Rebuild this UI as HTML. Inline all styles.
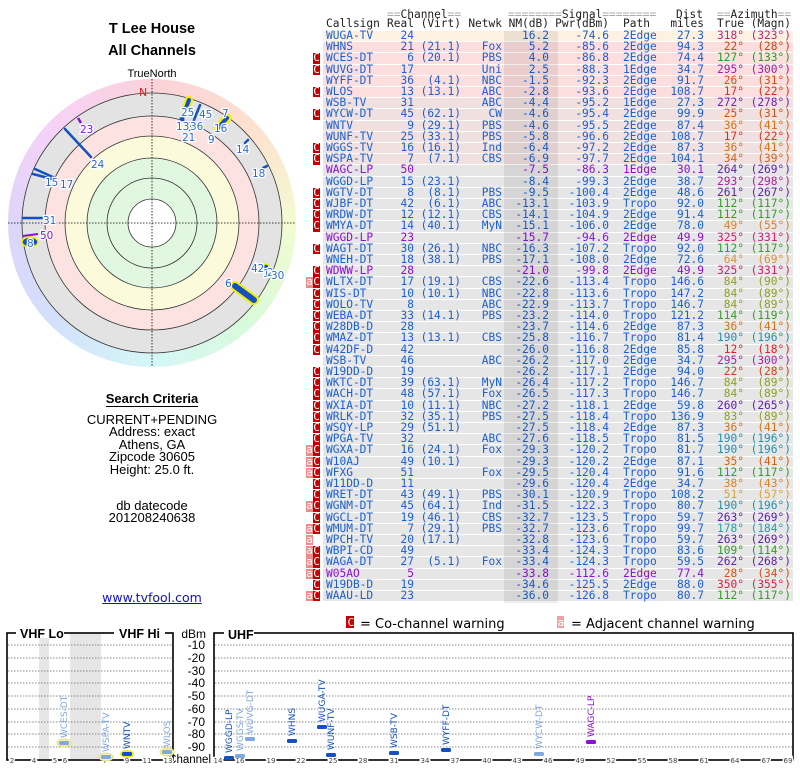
<!DOCTYPE html>
<html><head><meta charset="utf-8">
<style>
*{margin:0;padding:0;box-sizing:border-box}
body{width:800px;height:768px;background:#fff;position:relative;overflow:hidden;font-family:"Liberation Sans",Arial,sans-serif;color:#000}
.ab{position:absolute}
.ctr{position:absolute;left:52px;width:200px;text-align:center;font-size:13px;line-height:13px}
.mono{font-family:"DejaVu Sans Mono","Liberation Mono",monospace;font-size:11.2px}
.r,.h{position:absolute;left:323px;width:470px;height:11.2px;line-height:10.6px;padding-left:3px;display:grid;grid-template-columns:60px 28px 47px 41px 47px 60px 56px 39px 40px 47px;white-space:pre;color:#1a5fd6;border-bottom:1px solid #fff;background:#e6e6e6}
.h{background:none;border:none;color:#222}
.r>span,.h>span{text-align:right}
.r>span:nth-of-type(1),.h>span:nth-of-type(1){text-align:left}
.r>span:nth-of-type(7),.h>span:nth-of-type(7){text-align:left;padding-left:14px}
.r>span:nth-of-type(9),.r>span:nth-of-type(10){color:var(--a)}
.p{color:#8a10d8}
.y{background:#fdf2e2}.k{background:#fcdede}.g{background:#f0e0e0}
i{position:absolute;top:0;height:10.4px;width:7px;font-style:normal;color:#fff;text-align:center;line-height:10px;font-size:11px}
i.c{left:-10px;background:#c80000}
i.a{left:-17px;background:#f08c8c}
.eq{color:#aaa}
</style></head><body>

<div class="ctr" style="top:21px;font-weight:bold;font-size:14.5px;line-height:16px">T Lee House</div>
<div class="ctr" style="top:43px;font-weight:bold;font-size:14.5px;line-height:16px">All Channels</div>
<div class="ctr" style="top:68px;font-size:11px;line-height:12px">TrueNorth</div>

<div class="ab" style="left:8px;top:79px;width:288px;height:288px;border-radius:50%;background:conic-gradient(#fbd2da,#fde0cf 45deg,#f3fbd2 90deg,#d9fad9 135deg,#d5f7f7 180deg,#d3e0fb 225deg,#ddd5fb 270deg,#f7d2f7 315deg,#fbd2da)"></div>

<svg class="ab" style="left:0;top:0" width="800" height="768" xmlns="http://www.w3.org/2000/svg" font-family="DejaVu Sans, sans-serif">
<g>
<circle cx="152" cy="223" r="130" fill="#e3e3e3" stroke="#333" stroke-width="0.8"/>
<circle cx="152" cy="223" r="107" fill="#fde2e2" stroke="#333" stroke-width="0.8"/>
<circle cx="152" cy="223" r="87" fill="#fbfbdc" stroke="#333" stroke-width="0.8"/>
<circle cx="152" cy="223" r="65" fill="#e2f7df" stroke="#333" stroke-width="0.8"/>
<circle cx="152" cy="223" r="45" fill="#e2f7df" stroke="#333" stroke-width="0.8"/>
<circle cx="152" cy="223" r="24" fill="#fff" stroke="#333" stroke-width="0.8"/>
<line x1="8" y1="223" x2="296" y2="223" stroke="#000" stroke-width="0.8" stroke-dasharray="1.5,1.5"/>
<line x1="152" y1="79" x2="152" y2="367" stroke="#000" stroke-width="0.8" stroke-dasharray="1.5,1.5"/>
<text x="139" y="96" font-size="11" fill="#e02020">N</text>
<g transform="translate(0,60)">
<g stroke="#1550c0" stroke-width="2.5" stroke-linecap="round">
<line x1="65" y1="69" x2="91" y2="97"/>
<line x1="35" y1="109" x2="55" y2="118"/>
<line x1="33" y1="114" x2="52" y2="119"/>
<line x1="23" y1="158" x2="42" y2="158"/>
<line x1="200" y1="45" x2="190" y2="70"/>
<line x1="245" y1="83" x2="248" y2="80"/>
<line x1="263" y1="108" x2="267" y2="106"/>
</g>
<line x1="78" y1="58" x2="81" y2="63" stroke="#8a10d8" stroke-width="2.5"/>
<line x1="23" y1="176" x2="38" y2="174" stroke="#8a10d8" stroke-width="2"/>
<ellipse cx="30" cy="182" rx="8" ry="5" fill="#1550c0" stroke="#f0f000" stroke-width="1.5"/>
<line x1="189" y1="40" x2="186" y2="48" stroke="#f0f000" stroke-width="8" stroke-linecap="round"/>
<line x1="189" y1="40" x2="186" y2="48" stroke="#1550c0" stroke-width="4" stroke-linecap="round"/>
<line x1="227" y1="58" x2="218" y2="68" stroke="#f0f000" stroke-width="9" stroke-linecap="round"/>
<line x1="227" y1="58" x2="218" y2="68" stroke="#1550c0" stroke-width="4" stroke-linecap="round"/>
<circle cx="182" cy="59" r="2.5" fill="#1550c0"/>
<circle cx="266" cy="207" r="3" fill="#1550c0" stroke="#f0f000" stroke-width="1.5"/>
<line x1="235" y1="226" x2="254" y2="240" stroke="#f0f000" stroke-width="10" stroke-linecap="round"/>
<line x1="235" y1="226" x2="254" y2="240" stroke="#1550c0" stroke-width="6" stroke-linecap="round"/>
<g font-size="10.5" fill="#2a6ad8" stroke="#fff" stroke-width="2.5" paint-order="stroke">
<text x="91" y="108">24</text>
<text x="45" y="126">15</text><text x="60" y="128">17</text>
<text x="43" y="164">31</text>
<text x="27" y="187">8</text>
<text x="181" y="56">25</text><text x="199" y="58">45</text>
<text x="176" y="70">13</text><text x="190" y="70">36</text>
<text x="182" y="81">21</text><text x="222" y="57">7</text>
<text x="214" y="72">16</text><text x="208" y="83">9</text>
<text x="236" y="93">14</text><text x="252" y="117">18</text>
<text x="251" y="212">42</text><text x="263" y="217">1</text><text x="267" y="216">2</text><text x="271" y="219">30</text>
<text x="225" y="227">6</text>
<text x="80" y="73" fill="#8a10d8">23</text>
<text x="40" y="179" fill="#8a10d8">50</text>
</g>
</g>
</g>

<!-- legend -->
<rect x="346" y="616" width="8" height="12" fill="#c80000"/>
<text x="347.5" y="626" font-size="11" fill="#fff" font-family="DejaVu Sans Mono, monospace">C</text>
<text x="360" y="628" font-size="13" font-family="DejaVu Sans, sans-serif">= Co-channel warning</text>
<rect x="557" y="616" width="7" height="12" fill="#f0a0a0"/>
<text x="557.5" y="626" font-size="11" fill="#fff" font-family="DejaVu Sans Mono, monospace">a</text>
<text x="571" y="628" font-size="13">= Adjacent channel warning</text>

<!-- VHF box -->
<rect x="39" y="633" width="10" height="126" fill="#e6e6e6"/>
<rect x="70" y="633" width="31" height="126" fill="#e6e6e6"/>
<g stroke="#666" stroke-width="0.8" stroke-dasharray="1.5,1.5">
<line x1="8" y1="645" x2="172" y2="645"/><line x1="8" y1="658" x2="172" y2="658"/><line x1="8" y1="671" x2="172" y2="671"/>
<line x1="8" y1="683" x2="172" y2="683"/><line x1="8" y1="696" x2="172" y2="696"/><line x1="8" y1="709" x2="172" y2="709"/>
<line x1="8" y1="722" x2="172" y2="722"/><line x1="8" y1="734" x2="172" y2="734"/><line x1="8" y1="747" x2="172" y2="747"/>
<line x1="215" y1="645" x2="792" y2="645"/><line x1="215" y1="658" x2="792" y2="658"/><line x1="215" y1="671" x2="792" y2="671"/>
<line x1="215" y1="683" x2="792" y2="683"/><line x1="215" y1="696" x2="792" y2="696"/><line x1="215" y1="709" x2="792" y2="709"/>
<line x1="215" y1="722" x2="792" y2="722"/><line x1="215" y1="734" x2="792" y2="734"/><line x1="215" y1="747" x2="792" y2="747"/>
</g>
<rect x="7" y="633" width="166" height="127" fill="none" stroke="#000" stroke-width="1.6"/>
<rect x="214" y="633" width="579" height="127" fill="none" stroke="#000" stroke-width="1.6"/>
<rect x="16" y="628" width="48" height="10" fill="#fff"/>
<rect x="114" y="628" width="51" height="10" fill="#fff"/>
<rect x="224" y="628" width="30" height="10" fill="#fff"/>
<g font-family="Liberation Sans, Arial, sans-serif" font-weight="bold" font-size="12.5">
<text x="20" y="638">VHF Lo</text><text x="119" y="638">VHF Hi</text><text x="228" y="639">UHF</text>
</g>
<g font-size="12" text-anchor="end" font-family="Liberation Sans, Arial, sans-serif">
<text x="206" y="638">dBm</text><text x="205" y="649">-10</text><text x="205" y="662">-20</text><text x="205" y="675">-30</text>
<text x="205" y="687">-40</text><text x="205" y="700">-50</text><text x="205" y="713">-60</text><text x="205" y="726">-70</text>
<text x="205" y="738">-80</text><text x="205" y="751">-90</text><text x="211" y="763" font-size="11.5">Channel</text>
</g>
<g font-size="7" fill="#444" text-anchor="middle" stroke="#fff" stroke-width="3" paint-order="stroke">
<text x="12" y="763">2</text><text x="34" y="763">4</text><text x="55" y="763">5</text><text x="65" y="763">6</text>
<text x="105" y="763">7</text><text x="127" y="763">9</text><text x="147" y="763">11</text><text x="168" y="763">13</text>
<text x="218" y="763">14</text><text x="240" y="763">16</text><text x="271" y="763">19</text><text x="301" y="763">22</text>
<text x="333" y="763">25</text><text x="363" y="763">28</text><text x="394" y="763">31</text><text x="425" y="763">34</text>
<text x="455" y="763">37</text><text x="487" y="763">40</text><text x="517" y="763">43</text><text x="548" y="763">46</text>
<text x="580" y="763">49</text><text x="611" y="763">52</text><text x="642" y="763">55</text><text x="673" y="763">58</text>
<text x="704" y="763">61</text><text x="735" y="763">64</text><text x="766" y="763">67</text><text x="788" y="763">69</text>
</g>
<!-- station markers -->
<g>
<ellipse cx="64" cy="743" rx="7" ry="4" fill="#f4f0b0" stroke="#e8e070"/><rect x="59" y="741" width="10" height="4" rx="1.5" fill="#80a8e0"/>
<ellipse cx="106" cy="757" rx="7" ry="4" fill="#f4f0b0" stroke="#e8e070"/><rect x="101" y="755" width="10" height="4" rx="1.5" fill="#80a8e0"/>
<ellipse cx="127" cy="754" rx="7" ry="4" fill="#f0f000"/><rect x="122" y="752" width="10" height="4" rx="1.5" fill="#1550c0"/>
<ellipse cx="167" cy="752" rx="7" ry="4" fill="#f4f0b0" stroke="#e8e070"/><rect x="162" y="750" width="10" height="4" rx="1.5" fill="#80a8e0"/>
<rect x="224" y="756" width="10" height="4" rx="1.5" fill="#1550c0"/>
<rect x="235" y="754" width="10" height="4" rx="1.5" fill="#80a8e0"/>
<rect x="245" y="737" width="10" height="4" rx="1.5" fill="#80a8e0"/>
<rect x="287" y="739" width="10" height="4" rx="1.5" fill="#1550c0"/>
<rect x="317" y="725" width="10" height="4" rx="1.5" fill="#1550c0"/>
<rect x="326" y="753" width="10" height="4" rx="1.5" fill="#1550c0"/>
<rect x="389" y="751" width="10" height="4" rx="1.5" fill="#1550c0"/>
<rect x="441" y="748" width="10" height="4" rx="1.5" fill="#1550c0"/>
<rect x="534" y="752" width="10" height="4" rx="1.5" fill="#80a8e0"/>
<rect x="586" y="740" width="10" height="4" rx="1.5" fill="#8a10d8"/>
</g>
<g font-size="9">
<text transform="translate(67,738) rotate(-90)" fill="#80a8e0">WCES-DT</text>
<text transform="translate(109,752) rotate(-90)" fill="#80a8e0">WSPA-TV</text>
<text transform="translate(130,749) rotate(-90)" fill="#1550c0">WNTV</text>
<text transform="translate(170,747) rotate(-90)" fill="#80a8e0">WLOS</text>
<text transform="translate(232,753) rotate(-90)" fill="#1550c0">WGGD-LP</text>
<text transform="translate(243,751) rotate(-90)" fill="#80a8e0">WGGS-TV</text>
<text transform="translate(253,734) rotate(-90)" fill="#80a8e0">WUVG-DT</text>
<text transform="translate(295,736) rotate(-90)" fill="#1550c0">WHNS</text>
<text transform="translate(325,722) rotate(-90)" fill="#1550c0">WUGA-TV</text>
<text transform="translate(334,750) rotate(-90)" fill="#1550c0">WUNF-TV</text>
<text transform="translate(397,748) rotate(-90)" fill="#1550c0">WSB-TV</text>
<text transform="translate(449,745) rotate(-90)" fill="#1550c0">WYFF-DT</text>
<text transform="translate(542,749) rotate(-90)" fill="#80a8e0">WYCW-DT</text>
<text transform="translate(594,737) rotate(-90)" fill="#8a10d8">WAGC-LP</text>
</g>
</svg>

<div class="ctr" style="top:392px;font-weight:bold;"><span style="border-bottom:1px solid #000">Search Criteria</span></div>
<div class="ctr" style="top:414px;line-height:12.4px">CURRENT+PENDING<br>Address: exact<br>Athens, GA<br>Zipcode 30605<br>Height: 25.0 ft.</div>
<div class="ctr" style="top:500px;line-height:12.4px">db datecode<br>201208240638</div>
<div class="ctr" style="top:591px;font-family:'DejaVu Sans',sans-serif;font-size:12.5px;color:#1010d0;text-decoration:underline">www.tvfool.com</div>

<div class="mono">
<div class="ab" style="left:504px;top:31px;width:54px;height:572px;background:rgba(0,0,0,0.07);z-index:2"></div>
<div class="ab" style="left:387px;top:8px;white-space:pre;color:#222"><span class="eq">==</span>Channel<span class="eq">==</span></div>
<div class="ab" style="left:508px;top:8px;white-space:pre;color:#222"><span class="eq">========</span>Signal<span class="eq">========</span></div>
<div class="ab" style="left:676px;top:8px;color:#222">Dist</div>
<div class="ab" style="left:717px;top:8px;white-space:pre;color:#222"><span class="eq">==</span>Azimuth<span class="eq">==</span></div>
<div class="h" style="top:19px"><span>Callsign</span><span>Real</span><span>(Virt)</span><span>Netwk</span><span>NM(dB)</span><span>Pwr(dBm)</span><span>Path</span><span>miles</span><span>True</span><span>(Magn)</span></div>

<div class="r y" style="top:31.0px;--a:#c82080"><span>WUGA-TV</span><span>24</span><span></span><span></span><span>16.2</span><span>-74.6</span><span>2Edge</span><span>27.3</span><span>318°</span><span>(323°)</span></div>
<div class="r k" style="top:42.2px;--a:#d84010"><span>WHNS</span><span>21</span><span>(21.1)</span><span>Fox</span><span>5.2</span><span>-85.6</span><span>2Edge</span><span>94.3</span><span>22°</span><span>(28°)</span></div>
<div class="r k" style="top:53.4px;--a:#20a020"><i class="c">C</i><span>WCES-DT</span><span>6</span><span>(20.1)</span><span>PBS</span><span>4.0</span><span>-86.8</span><span>2Edge</span><span>74.4</span><span>127°</span><span>(133°)</span></div>
<div class="r k" style="top:64.6px;--a:#a020a8"><i class="c">C</i><span>WUVG-DT</span><span>17</span><span></span><span>Uni</span><span>2.5</span><span>-88.3</span><span>1Edge</span><span>34.7</span><span>295°</span><span>(300°)</span></div>
<div class="r k" style="top:75.8px;--a:#d85010"><span>WYFF-DT</span><span>36</span><span>(4.1)</span><span>NBC</span><span>-1.5</span><span>-92.3</span><span>2Edge</span><span>91.7</span><span>26°</span><span>(31°)</span></div>
<div class="r k" style="top:87.0px;--a:#e03010"><i class="c">C</i><span>WLOS</span><span>13</span><span>(13.1)</span><span>ABC</span><span>-2.8</span><span>-93.6</span><span>2Edge</span><span>108.7</span><span>17°</span><span>(22°)</span></div>
<div class="r g" style="top:98.2px;--a:#7020c0"><span>WSB-TV</span><span>31</span><span></span><span>ABC</span><span>-4.4</span><span>-95.2</span><span>1Edge</span><span>27.3</span><span>272°</span><span>(278°)</span></div>
<div class="r g" style="top:109.4px;--a:#d85010"><i class="c">C</i><span>WYCW-DT</span><span>45</span><span>(62.1)</span><span>CW</span><span>-4.6</span><span>-95.4</span><span>2Edge</span><span>99.9</span><span>25°</span><span>(31°)</span></div>
<div class="r g" style="top:120.6px;--a:#d87010"><span>WNTV</span><span>9</span><span>(29.1)</span><span>PBS</span><span>-4.6</span><span>-95.5</span><span>2Edge</span><span>87.4</span><span>36°</span><span>(41°)</span></div>
<div class="r g" style="top:131.8px;--a:#e03010"><span>WUNF-TV</span><span>25</span><span>(33.1)</span><span>PBS</span><span>-5.8</span><span>-96.6</span><span>2Edge</span><span>108.7</span><span>17°</span><span>(22°)</span></div>
<div class="r g" style="top:143.0px;--a:#d87010"><i class="c">C</i><span>WGGS-TV</span><span>16</span><span>(16.1)</span><span>Ind</span><span>-6.4</span><span>-97.2</span><span>2Edge</span><span>87.3</span><span>36°</span><span>(41°)</span></div>
<div class="r g" style="top:154.2px;--a:#d86010"><i class="c">C</i><span>WSPA-TV</span><span>7</span><span>(7.1)</span><span>CBS</span><span>-6.9</span><span>-97.7</span><span>2Edge</span><span>104.1</span><span>34°</span><span>(39°)</span></div>
<div class="r p" style="top:165.4px;--a:#6020b0"><span>WAGC-LP</span><span>50</span><span></span><span></span><span>-7.5</span><span>-86.3</span><span>1Edge</span><span>30.1</span><span>264°</span><span>(269°)</span></div>
<div class="r" style="top:176.6px;--a:#b020a0"><span>WGGD-LP</span><span>15</span><span>(23.1)</span><span></span><span>-8.4</span><span>-99.3</span><span>2Edge</span><span>38.7</span><span>293°</span><span>(298°)</span></div>
<div class="r" style="top:187.8px;--a:#6020b0"><i class="c">C</i><span>WGTV-DT</span><span>8</span><span>(8.1)</span><span>PBS</span><span>-9.5</span><span>-100.4</span><span>2Edge</span><span>48.6</span><span>261°</span><span>(267°)</span></div>
<div class="r" style="top:199.0px;--a:#30a020"><i class="c">C</i><span>WJBF-DT</span><span>42</span><span>(6.1)</span><span>ABC</span><span>-13.1</span><span>-103.9</span><span>Tropo</span><span>92.0</span><span>112°</span><span>(117°)</span></div>
<div class="r" style="top:210.2px;--a:#30a020"><i class="c">C</i><span>WRDW-DT</span><span>12</span><span>(12.1)</span><span>CBS</span><span>-14.1</span><span>-104.9</span><span>2Edge</span><span>91.4</span><span>112°</span><span>(117°)</span></div>
<div class="r" style="top:221.4px;--a:#e08020"><i class="c">C</i><span>WMYA-DT</span><span>14</span><span>(40.1)</span><span>MyN</span><span>-15.1</span><span>-106.0</span><span>2Edge</span><span>78.0</span><span>49°</span><span>(55°)</span></div>
<div class="r p" style="top:232.6px;--a:#d02070"><span>WGGD-LP</span><span>23</span><span></span><span></span><span>-15.7</span><span>-94.6</span><span>2Edge</span><span>49.9</span><span>325°</span><span>(331°)</span></div>
<div class="r" style="top:243.8px;--a:#30a020"><i class="c">C</i><span>WAGT-DT</span><span>30</span><span>(26.1)</span><span>NBC</span><span>-16.3</span><span>-107.2</span><span>Tropo</span><span>92.0</span><span>112°</span><span>(117°)</span></div>
<div class="r" style="top:255.0px;--a:#e09030"><span>WNEH-DT</span><span>18</span><span>(38.1)</span><span>PBS</span><span>-17.1</span><span>-108.0</span><span>2Edge</span><span>72.6</span><span>64°</span><span>(69°)</span></div>
<div class="r p" style="top:266.2px;--a:#d02070"><i class="c">C</i><span>WDWW-LP</span><span>28</span><span></span><span></span><span>-21.0</span><span>-99.8</span><span>2Edge</span><span>49.9</span><span>325°</span><span>(331°)</span></div>
<div class="r" style="top:277.4px;--a:#90a020"><i class="a">a</i><i class="c">C</i><span>WLTX-DT</span><span>17</span><span>(19.1)</span><span>CBS</span><span>-22.6</span><span>-113.4</span><span>Tropo</span><span>146.6</span><span>84°</span><span>(90°)</span></div>
<div class="r" style="top:288.6px;--a:#90a020"><i class="c">C</i><span>WIS-DT</span><span>10</span><span>(10.1)</span><span>NBC</span><span>-22.8</span><span>-113.6</span><span>Tropo</span><span>147.2</span><span>84°</span><span>(89°)</span></div>
<div class="r" style="top:299.8px;--a:#90a020"><i class="c">C</i><span>WOLO-TV</span><span>8</span><span></span><span>ABC</span><span>-22.9</span><span>-113.7</span><span>Tropo</span><span>146.7</span><span>84°</span><span>(89°)</span></div>
<div class="r" style="top:311.0px;--a:#30a020"><i class="c">C</i><span>WEBA-DT</span><span>33</span><span>(14.1)</span><span>PBS</span><span>-23.2</span><span>-114.0</span><span>Tropo</span><span>121.2</span><span>114°</span><span>(119°)</span></div>
<div class="r" style="top:322.2px;--a:#d87010"><i class="c">C</i><span>W28DB-D</span><span>28</span><span></span><span></span><span>-23.7</span><span>-114.6</span><span>2Edge</span><span>87.3</span><span>36°</span><span>(41°)</span></div>
<div class="r" style="top:333.4px;--a:#2090b0"><i class="c">C</i><span>WMAZ-DT</span><span>13</span><span>(13.1)</span><span>CBS</span><span>-25.8</span><span>-116.7</span><span>Tropo</span><span>81.4</span><span>190°</span><span>(196°)</span></div>
<div class="r" style="top:344.6px;--a:#e02020"><i class="c">C</i><span>W42DF-D</span><span>42</span><span></span><span></span><span>-26.0</span><span>-116.8</span><span>2Edge</span><span>85.8</span><span>12°</span><span>(18°)</span></div>
<div class="r" style="top:355.8px;--a:#b020a0"><span>WSB-TV</span><span>46</span><span></span><span>ABC</span><span>-26.2</span><span>-117.0</span><span>2Edge</span><span>34.7</span><span>295°</span><span>(300°)</span></div>
<div class="r" style="top:367.0px;--a:#d84010"><i class="c">C</i><span>W19DD-D</span><span>19</span><span></span><span></span><span>-26.2</span><span>-117.1</span><span>2Edge</span><span>94.0</span><span>22°</span><span>(28°)</span></div>
<div class="r" style="top:378.2px;--a:#90a020"><i class="c">C</i><span>WKTC-DT</span><span>39</span><span>(63.1)</span><span>MyN</span><span>-26.4</span><span>-117.2</span><span>Tropo</span><span>146.7</span><span>84°</span><span>(89°)</span></div>
<div class="r" style="top:389.4px;--a:#90a020"><i class="c">C</i><span>WACH-DT</span><span>48</span><span>(57.1)</span><span>Fox</span><span>-26.5</span><span>-117.3</span><span>Tropo</span><span>146.7</span><span>84°</span><span>(89°)</span></div>
<div class="r" style="top:400.6px;--a:#6020b0"><i class="c">C</i><span>WXIA-DT</span><span>10</span><span>(11.1)</span><span>NBC</span><span>-27.2</span><span>-118.1</span><span>2Edge</span><span>59.8</span><span>260°</span><span>(265°)</span></div>
<div class="r" style="top:411.8px;--a:#90a020"><i class="c">C</i><span>WRLK-DT</span><span>32</span><span>(35.1)</span><span>PBS</span><span>-27.5</span><span>-118.4</span><span>Tropo</span><span>136.9</span><span>83°</span><span>(89°)</span></div>
<div class="r" style="top:423.0px;--a:#d87010"><i class="c">C</i><span>WSQY-LP</span><span>29</span><span>(51.1)</span><span></span><span>-27.5</span><span>-118.4</span><span>2Edge</span><span>87.3</span><span>36°</span><span>(41°)</span></div>
<div class="r" style="top:434.2px;--a:#2090b0"><i class="c">C</i><span>WPGA-TV</span><span>32</span><span></span><span>ABC</span><span>-27.6</span><span>-118.5</span><span>Tropo</span><span>81.5</span><span>190°</span><span>(196°)</span></div>
<div class="r" style="top:445.4px;--a:#2090b0"><i class="a">a</i><i class="c">C</i><span>WGXA-DT</span><span>16</span><span>(24.1)</span><span>Fox</span><span>-29.3</span><span>-120.2</span><span>Tropo</span><span>81.7</span><span>190°</span><span>(196°)</span></div>
<div class="r" style="top:456.6px;--a:#d86010"><i class="a">a</i><i class="c">C</i><span>W10AJ</span><span>49</span><span>(10.1)</span><span></span><span>-29.3</span><span>-120.2</span><span>2Edge</span><span>87.1</span><span>35°</span><span>(41°)</span></div>
<div class="r" style="top:467.8px;--a:#30a020"><i class="a">a</i><i class="c">C</i><span>WFXG</span><span>51</span><span></span><span>Fox</span><span>-29.5</span><span>-120.4</span><span>Tropo</span><span>91.6</span><span>112°</span><span>(117°)</span></div>
<div class="r" style="top:479.0px;--a:#e08020"><i class="c">C</i><span>W11DD-D</span><span>11</span><span></span><span></span><span>-29.6</span><span>-120.4</span><span>2Edge</span><span>34.7</span><span>38°</span><span>(43°)</span></div>
<div class="r" style="top:490.2px;--a:#e0a030"><i class="c">C</i><span>WRET-DT</span><span>43</span><span>(49.1)</span><span>PBS</span><span>-30.1</span><span>-120.9</span><span>Tropo</span><span>108.2</span><span>51°</span><span>(57°)</span></div>
<div class="r" style="top:501.4px;--a:#2090b0"><i class="a">a</i><i class="c">C</i><span>WGNM-DT</span><span>45</span><span>(64.1)</span><span>Ind</span><span>-31.5</span><span>-122.3</span><span>Tropo</span><span>80.7</span><span>190°</span><span>(196°)</span></div>
<div class="r" style="top:512.6px;--a:#6020b0"><i class="c">C</i><span>WGCL-DT</span><span>19</span><span>(46.1)</span><span>CBS</span><span>-32.7</span><span>-123.5</span><span>Tropo</span><span>59.7</span><span>263°</span><span>(269°)</span></div>
<div class="r" style="top:523.8px;--a:#20a0b0"><i class="a">a</i><i class="c">C</i><span>WMUM-DT</span><span>7</span><span>(29.1)</span><span>PBS</span><span>-32.7</span><span>-123.6</span><span>Tropo</span><span>99.7</span><span>178°</span><span>(184°)</span></div>
<div class="r" style="top:535.0px;--a:#6020b0"><i class="a">a</i><span>WPCH-TV</span><span>20</span><span>(17.1)</span><span></span><span>-32.8</span><span>-123.6</span><span>Tropo</span><span>59.7</span><span>263°</span><span>(269°)</span></div>
<div class="r" style="top:546.2px;--a:#30a020"><i class="a">a</i><i class="c">C</i><span>WBPI-CD</span><span>49</span><span></span><span></span><span>-33.4</span><span>-124.3</span><span>Tropo</span><span>83.6</span><span>109°</span><span>(114°)</span></div>
<div class="r" style="top:557.4px;--a:#6020b0"><i class="a">a</i><i class="c">C</i><span>WAGA-DT</span><span>27</span><span>(5.1)</span><span>Fox</span><span>-33.4</span><span>-124.3</span><span>Tropo</span><span>59.5</span><span>262°</span><span>(268°)</span></div>
<div class="r p" style="top:568.6px;--a:#d85010"><i class="a">a</i><i class="c">C</i><span>W05AO</span><span>5</span><span></span><span></span><span>-33.8</span><span>-112.6</span><span>2Edge</span><span>77.4</span><span>28°</span><span>(34°)</span></div>
<div class="r" style="top:579.8px;--a:#e02040"><i class="c">C</i><span>W19DB-D</span><span>19</span><span></span><span></span><span>-34.6</span><span>-125.5</span><span>2Edge</span><span>88.0</span><span>350°</span><span>(355°)</span></div>
<div class="r" style="top:591.0px;--a:#30a020"><i class="a">a</i><i class="c">C</i><span>WAAU-LD</span><span>23</span><span></span><span></span><span>-36.0</span><span>-126.8</span><span>Tropo</span><span>80.7</span><span>112°</span><span>(117°)</span></div>
</div>
</body></html>
